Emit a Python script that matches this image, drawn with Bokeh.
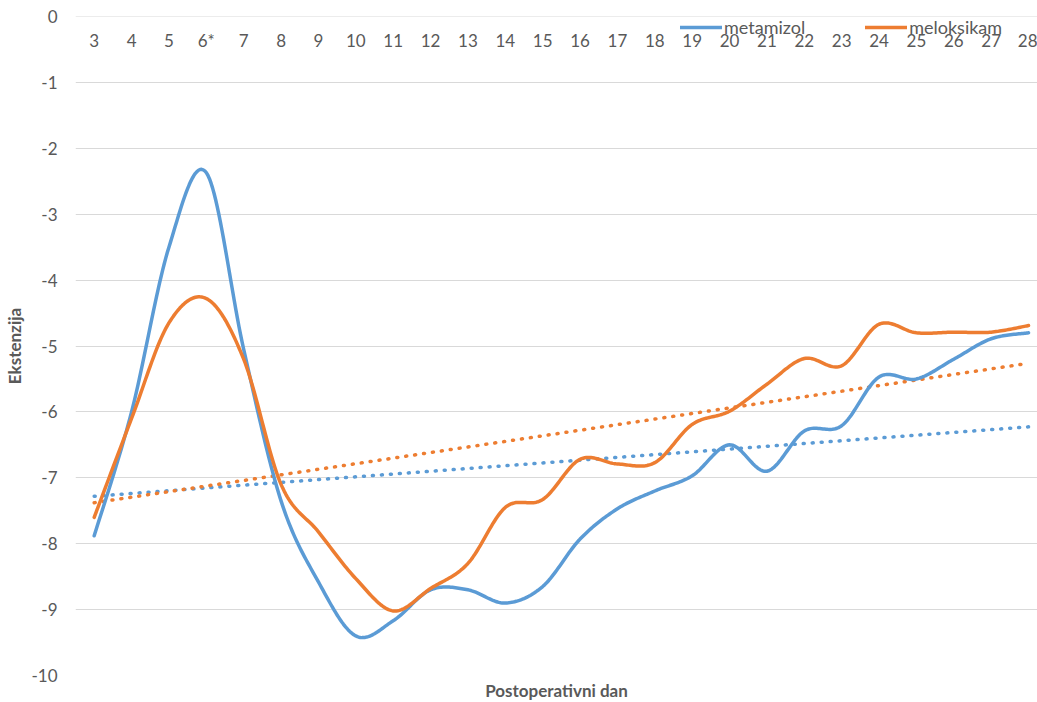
import numpy as np
from bokeh.plotting import figure
from bokeh.models import (FixedTicker, Legend, LegendItem, Title, Range1d)
from bokeh.embed import file_html
from bokeh.resources import INLINE

# ---- data ----
days = ["3", "4", "5", "6*", "7", "8", "9", "10", "11", "12", "13", "14", "15",
        "16", "17", "18", "19", "20", "21", "22", "23", "24", "25", "26", "27", "28"]
metamizol = [-7.88, -6.0, -3.5, -2.37, -5.05, -7.35, -8.58, -9.4, -9.17, -8.7,
             -8.7, -8.9, -8.65, -7.93, -7.47, -7.2, -6.97, -6.5, -6.9, -6.29,
             -6.21, -5.47, -5.5, -5.2, -4.89, -4.8]
meloksikam = [-7.6, -6.1, -4.65, -4.28, -5.2, -7.1, -7.82, -8.53, -9.02, -8.68,
              -8.3, -7.45, -7.33, -6.72, -6.79, -6.77, -6.19, -5.99, -5.58, -5.19,
              -5.3, -4.67, -4.8, -4.79, -4.79, -4.69]
y_ticks = list(range(-10, 1))
y_labels = {v: str(v) for v in y_ticks}

BLUE = "#5B9BD5"
ORANGE = "#ED7D31"
GRID = "#D9D9D9"
TXT = "#595959"
FONT = "Lato"


def smooth(xs, ys, n=24):
    """Excel-like smoothed line: Catmull-Rom segments as cubic Beziers."""
    xs = np.asarray(xs, float)
    ys = np.asarray(ys, float)
    px = np.concatenate([[xs[0]], xs, [xs[-1]]])
    py = np.concatenate([[ys[0]], ys, [ys[-1]]])
    t = np.linspace(0, 1, n, endpoint=False)
    ox, oy = [], []
    for i in range(len(xs) - 1):
        p0x, p1x, p2x, p3x = px[i:i + 4]
        p0y, p1y, p2y, p3y = py[i:i + 4]
        c1x, c1y = p1x + (p2x - p0x) / 6, p1y + (p2y - p0y) / 6
        c2x, c2y = p2x - (p3x - p1x) / 6, p2y - (p3y - p1y) / 6
        a = (1 - t) ** 3
        b = 3 * (1 - t) ** 2 * t
        c = 3 * (1 - t) * t ** 2
        d = t ** 3
        ox.extend(a * p1x + b * c1x + c * c2x + d * p2x)
        oy.extend(a * p1y + b * c1y + c * c2y + d * p2y)
    ox.append(xs[-1])
    oy.append(ys[-1])
    return ox, oy


idx = list(range(len(days)))

p = figure(width=1037, height=702, output_backend="svg", toolbar_location=None,
           x_range=Range1d(-0.5, 25.24), y_range=Range1d(-10, 0),
           min_border_left=75, min_border_top=16, min_border_right=0,
           min_border_bottom=0, outline_line_color=None,
           background_fill_color="white", border_fill_color="white")

# grid
p.xgrid.grid_line_color = None
p.ygrid.ticker = FixedTicker(ticks=y_ticks)
p.ygrid.grid_line_color = GRID
p.ygrid.grid_line_width = 1

# x axis: categories drawn under the zero line
xa = p.xaxis[0]
xa.fixed_location = 0
xa.ticker = FixedTicker(ticks=idx)
xa.major_label_overrides = {i: d for i, d in enumerate(days)}
xa.major_tick_line_color = None
xa.minor_tick_line_color = None
xa.axis_line_color = GRID
xa.major_label_standoff = 7
xa.major_label_text_color = TXT
xa.major_label_text_font = FONT
xa.major_label_text_font_size = "17px"

# y axis
ya = p.yaxis[0]
ya.ticker = FixedTicker(ticks=y_ticks)
ya.major_label_overrides = y_labels
ya.axis_line_color = None
ya.major_tick_line_color = None
ya.minor_tick_line_color = None
ya.major_tick_out = 0
ya.major_tick_in = 0
ya.minor_tick_out = 0
ya.minor_tick_in = 0
ya.major_label_standoff = 18
ya.major_label_text_color = TXT
ya.major_label_text_font = FONT
ya.major_label_text_font_size = "17px"
ya.axis_label = "Ekstenzija"
ya.axis_label_text_font = FONT
ya.axis_label_text_font_size = "17px"
ya.axis_label_text_font_style = "bold"
ya.axis_label_text_color = TXT
ya.axis_label_standoff = 3

# x axis title at the bottom
p.add_layout(Title(text="Postoperativni dan", align="center", text_font=FONT,
                   text_font_size="17px", text_font_style="bold",
                   text_color=TXT, offset=0, standoff=4), "below")

# linear trendlines (least squares on the series)
for series, col in ((metamizol, BLUE), (meloksikam, ORANGE)):
    k, b = np.polyfit(idx, series, 1)
    tx = [idx[0], idx[-1]]
    ty = [k * idx[0] + b, k * idx[-1] + b]
    p.line(tx, ty, line_color=col, line_width=3.5, line_dash="1 8",
           line_cap="round")

# smoothed series
sx, sy = smooth(idx, metamizol)
r1 = p.line(sx, sy, line_color=BLUE, line_width=3.5, line_join="round",
            line_cap="round")
sx, sy = smooth(idx, meloksikam)
r2 = p.line(sx, sy, line_color=ORANGE, line_width=3.5, line_join="round",
            line_cap="round")

legend = Legend(items=[LegendItem(label="metamizol", renderers=[r1]),
                       LegendItem(label="meloksikam", renderers=[r2])],
                orientation="horizontal", location=(605, 637),
                border_line_color=None, background_fill_alpha=0,
                padding=0, margin=0, spacing=60, glyph_width=42,
                glyph_height=20, label_height=20, label_standoff=2,
                label_text_font=FONT, label_text_font_size="18px",
                label_text_color=TXT)
p.add_layout(legend)

open("out.html", "w").write(file_html(p, INLINE))
